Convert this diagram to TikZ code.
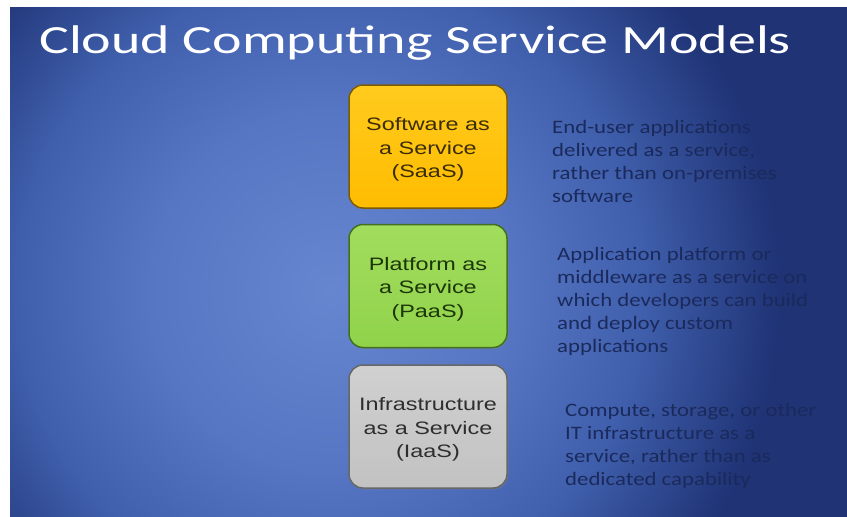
\documentclass[tikz,border=0pt]{standalone}
\usepackage{fontspec}
\usetikzlibrary{shadows}
\newfontfamily\titlefont[FakeStretch=1.4]{Carlito}
\newfontfamily\descfont[FakeStretch=1.2]{Carlito}
\newfontfamily\boxfont[FakeStretch=1.3]{Liberation Sans}
\definecolor{bgin}{HTML}{6686D0}
\definecolor{bgmid}{HTML}{5676C3}
\definecolor{bgmidb}{HTML}{3F5EAB}
\definecolor{bgout}{HTML}{1F3375}
\definecolor{saastop}{HTML}{FFCB1E}
\definecolor{saasbot}{HTML}{FFBC00}
\definecolor{saasedge}{HTML}{7A5C08}
\definecolor{saastext}{HTML}{3A2C05}
\definecolor{paastop}{HTML}{A2DD5E}
\definecolor{paasbot}{HTML}{90D24A}
\definecolor{paasedge}{HTML}{43701E}
\definecolor{paastext}{HTML}{1C3608}
\definecolor{iaastop}{HTML}{D0D0D0}
\definecolor{iaasbot}{HTML}{C2C2C2}
\definecolor{iaasedge}{HTML}{676767}
\definecolor{iaastext}{HTML}{2E2E2E}
\definecolor{desctext}{HTML}{1B2A5C}
\pgfdeclareradialshading{slidebg}{\pgfpoint{0bp}{0bp}}{color(0bp)=(bgin); color(10bp)=(bgmid); color(17.5bp)=(bgmidb); color(25bp)=(bgout); color(50bp)=(bgout)}
\tikzset{
  svcbox/.style={rounded corners=14pt, minimum width=158pt, minimum height=123pt,
    line width=1.5pt, inner sep=0pt,
    drop shadow={shadow xshift=1.5pt, shadow yshift=-1.5pt, opacity=0.35}},
  boxtext/.style={align=center, inner sep=0pt,
    font=\boxfont\fontsize{18}{23.5}\selectfont},
  desc/.style={anchor=north west, inner sep=0pt, align=left, text=desctext,
    font=\descfont\fontsize{19}{23}\selectfont}
}
\begin{document}
\begin{tikzpicture}[x=1pt,y=-1pt]
\useasboundingbox (0,0) rectangle (847,517);
\fill[white] (0,0) rectangle (847,517);
\begin{scope}
  \clip (10,7) rectangle (847,517);
  \fill[bgout] (10,7) rectangle (847,517);
  \shade[shading=slidebg] (330,290) circle[radius=450pt];
\end{scope}
\node[anchor=base west, inner sep=0pt, text=white,
  font=\titlefont\fontsize{40}{40}\selectfont] (title) at (39,53) {Cloud Computing Service Models};
\node[svcbox, top color=saastop, bottom color=saasbot, draw=saasedge] (saas) at (428,146.5) {};
\node[svcbox, top color=paastop, bottom color=paasbot, draw=paasedge] (paas) at (428,286) {};
\node[svcbox, top color=iaastop, bottom color=iaasbot, draw=iaasedge] (iaas) at (428,426.5) {};
\node[boxtext, text=saastext] (saast) at ([yshift=-3pt]saas.center) {Software as\\a Service\\(SaaS)};
\node[boxtext, text=paastext] (paast) at ([yshift=-3pt]paas.center) {Platform as\\a Service\\(PaaS)};
\node[boxtext, text=iaastext] (iaast) at ([yshift=-3pt]iaas.center) {Infrastructure\\as a Service\\(IaaS)};
\node[desc] (saasd) at (552,120) {End-user applications\\delivered as a service,\\rather than on-premises\\software};
\node[desc] (paasd) at (557,247) {Application platform or\\middleware as a service on\\which developers can build\\and deploy custom\\applications};
\node[desc] (iaasd) at (565,403) {Compute, storage, or other\\IT infrastructure as a\\service, rather than as\\dedicated capability};
\end{tikzpicture}
\end{document}
